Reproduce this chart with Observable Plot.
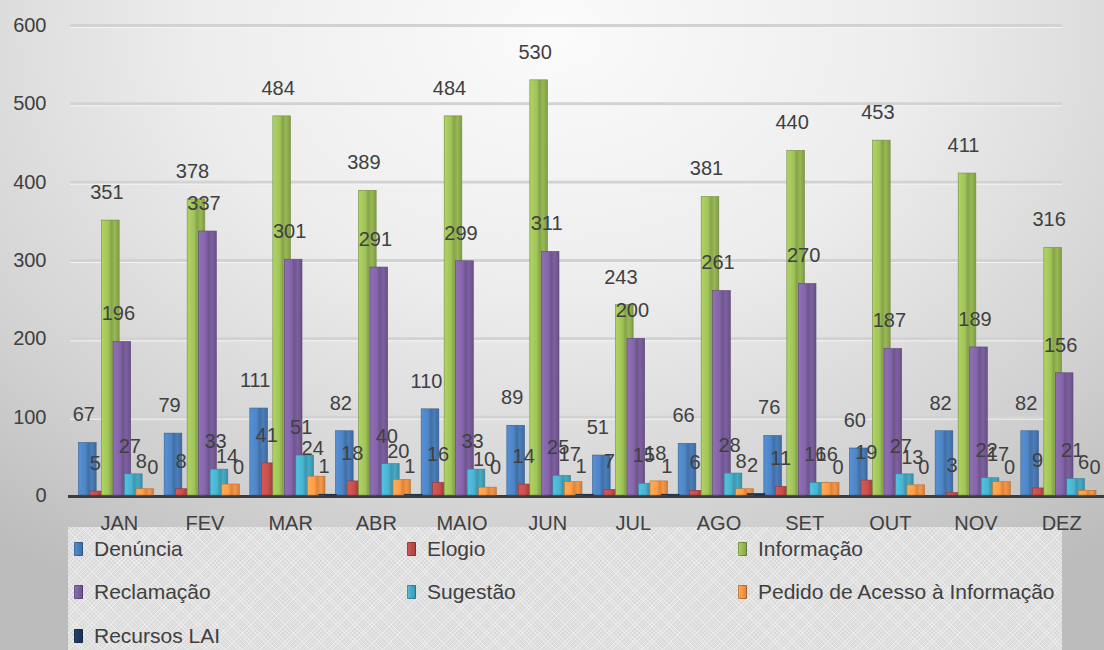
<!DOCTYPE html>
<html><head><meta charset="utf-8">
<script src="https://cdn.jsdelivr.net/npm/d3@7"></script>
<script src="https://cdn.jsdelivr.net/npm/@observablehq/plot@0.6"></script>
<style>
html,body{margin:0;padding:0;}
body{width:1104px;height:650px;overflow:hidden;
 background:radial-gradient(ellipse 80% 100% at 50% 5%, #fbfbfb 0%, #ededed 40%, #d3d3d3 75%, #bcbcbc 100%);
 font-family:"Liberation Sans",Arial,sans-serif;color:#404040;}
#chart{position:relative;z-index:2;height:540px;}
#legend{position:relative;z-index:1;margin-top:-13px;margin-left:68px;width:994px;height:140px;
 background-color:#d9d9d9;
 background-image:repeating-linear-gradient(45deg, rgba(255,255,255,0.35) 0 1px, transparent 1px 3px),
                  repeating-linear-gradient(-45deg, rgba(255,255,255,0.35) 0 1px, transparent 1px 3px);
 display:grid;grid-template-columns:333px 331px 330px;grid-auto-rows:43.5px;}
.item{display:flex;align-items:center;padding-left:6px;font-size:21px;white-space:nowrap;}
.sw{width:9px;height:14px;margin-right:11px;border-radius:1px;box-shadow:inset 0 0 0 1px rgba(0,0,0,0.25);}
</style></head>
<body>
<div id="chart"></div>
<div id="legend"></div>
<script>
const months = ["JAN","FEV","MAR","ABR","MAIO","JUN","JUL","AGO","SET","OUT","NOV","DEZ"];
const series = ["Denúncia","Elogio","Informação","Reclamação","Sugestão","Pedido de Acesso à Informação","Recursos LAI"];
const colors = ["#4a7ebb","#be4b48","#98b954","#7d60a0","#46aac5","#f79646","#1f3a5f"];
const denuncia   = [67,79,111,82,110,89,51,66,76,60,82,82];
const elogio     = [5,8,41,18,16,14,7,6,11,19,3,9];
const informacao = [351,378,484,389,484,530,243,381,440,453,411,316];
const reclamacao = [196,337,301,291,299,311,200,261,270,187,189,156];
const sugestao   = [27,33,51,40,33,25,15,28,16,27,22,21];
const pedido     = [8,14,24,20,10,17,18,8,16,13,17,6];
const recursos   = [0,0,1,1,0,1,1,2,0,0,0,0];
const yTicks = [0,100,200,300,400,500,600];

const values = [denuncia, elogio, informacao, reclamacao, sugestao, pedido, recursos];
const tables = values.map(v => months.map((m, j) => ({month: m, value: v[j]})));

const step = 11.5;
const marks = [
  Plot.ruleY(yTicks.filter(t => t > 0), {stroke: "#d2d2d2", strokeWidth: 3, insetLeft: 2, insetRight: 42}),
  Plot.ruleY(yTicks.filter(t => t > 0), {stroke: "#f4f4f4", strokeWidth: 1, dy: 2, insetLeft: 2, insetRight: 42}),
  Plot.ruleY([0], {stroke: "#3c3c3c", strokeWidth: 3, dy: 1}),
  Plot.axisX({tickSize: 0, tickPadding: 20, dx: -3, label: null, fill: "#404040", fontSize: 20}),
  Plot.axisY({ticks: yTicks, tickSize: 0, tickPadding: 22, label: null, fill: "#404040", fontSize: 20})
];
tables.forEach((t, i) => {
  marks.push(Plot.barY(t, {
    x: "month", y: "value", fill: `url(#grad${i})`,
    stroke: d3.color(colors[i]).darker(0.8).formatHex(), strokeWidth: 0.6,
    insetLeft: 34, insetRight: 34, dx: (i - 3) * step
  }));
});
tables.forEach((t, i) => {
  marks.push(Plot.text(t, {
    x: "month", y: "value", text: d => String(d.value),
    dx: (i - 3) * step - 4, dy: -28, fill: "#404040", fontSize: 20
  }));
});

const plot = Plot.plot({
  width: 1104, height: 540,
  marginTop: 25, marginBottom: 45, marginLeft: 68, marginRight: 0,
  style: {background: "transparent", fontFamily: "Liberation Sans, Arial, sans-serif", fontSize: "20px", color: "#404040", overflow: "visible"},
  x: {domain: months, range: [79, 1107], padding: 0, round: false},
  y: {domain: [0, 600]},
  marks
});

const defs = d3.select(plot).insert("defs", ":first-child");
colors.forEach((c, i) => {
  const g = defs.append("linearGradient").attr("id", `grad${i}`).attr("x1", 0).attr("x2", 1).attr("y1", 0).attr("y2", 0);
  const base = d3.color(c);
  [[0, base.brighter(0.4)], [0.4, base.brighter(0.15)], [0.55, base.darker(0.35)], [0.75, base], [1, base.darker(0.5)]]
    .forEach(([o, col]) => g.append("stop").attr("offset", o).attr("stop-color", col.formatHex()));
});

document.getElementById("chart").appendChild(plot);

const legend = document.getElementById("legend");
series.forEach((s, i) => {
  const it = document.createElement("div");
  it.className = "item";
  const sw = document.createElement("span");
  sw.className = "sw";
  sw.style.background = `linear-gradient(90deg, ${d3.color(colors[i]).brighter(0.4)}, ${colors[i]} 50%, ${d3.color(colors[i]).darker(0.4)})`;
  const tx = document.createElement("span");
  tx.textContent = s;
  it.appendChild(sw); it.appendChild(tx);
  legend.appendChild(it);
});
</script>
</body></html>
